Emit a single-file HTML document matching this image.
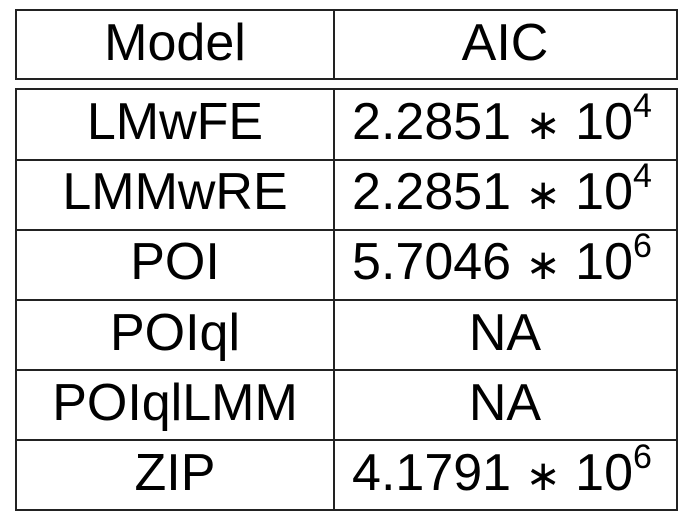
<!DOCTYPE html>
<html><head><meta charset="utf-8"><style>
html,body{margin:0;padding:0;background:#fff;width:688px;height:525px;overflow:hidden}
svg text{font-family:"Liberation Sans","DejaVu Sans",sans-serif;font-size:52px;fill:#000}
</style></head><body>
<svg width="688" height="525">
<g stroke="#222" stroke-width="2" fill="none">
<rect x="16" y="10" width="661" height="69"/>
<line x1="334" y1="10" x2="334" y2="79"/>
<rect x="16" y="89" width="661" height="421"/>
<line x1="334" y1="89" x2="334" y2="510"/>
<line x1="16" y1="160" x2="677" y2="160"/>
<line x1="16" y1="230" x2="677" y2="230"/>
<line x1="16" y1="300" x2="677" y2="300"/>
<line x1="16" y1="370" x2="677" y2="370"/>
<line x1="16" y1="440" x2="677" y2="440"/>
</g>
<text x="175" y="60" text-anchor="middle">Model</text>
<text x="505" y="60" text-anchor="middle">AIC</text>
<text x="175" y="139" text-anchor="middle">LMwFE</text>
<text x="502" y="139" text-anchor="middle">2.2851 <tspan font-size="42">∗</tspan> 10<tspan dy="-22" font-size="34">4</tspan></text>
<text x="175" y="209" text-anchor="middle">LMMwRE</text>
<text x="502" y="209" text-anchor="middle">2.2851 <tspan font-size="42">∗</tspan> 10<tspan dy="-22" font-size="34">4</tspan></text>
<text x="175" y="279" text-anchor="middle">POI</text>
<text x="502" y="279" text-anchor="middle">5.7046 <tspan font-size="42">∗</tspan> 10<tspan dy="-22" font-size="34">6</tspan></text>
<text x="175" y="350" text-anchor="middle">POIql</text>
<text x="505" y="350" text-anchor="middle">NA</text>
<text x="175" y="420" text-anchor="middle">POIqlLMM</text>
<text x="505" y="420" text-anchor="middle">NA</text>
<text x="175" y="490" text-anchor="middle">ZIP</text>
<text x="502" y="490" text-anchor="middle">4.1791 <tspan font-size="42">∗</tspan> 10<tspan dy="-22" font-size="34">6</tspan></text>
</svg>
</body></html>
